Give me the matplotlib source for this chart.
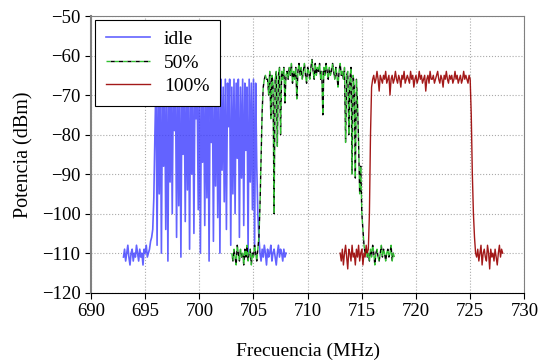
import matplotlib.pyplot as plt
import numpy as np

plt.rcParams['font.family'] = ['Liberation Serif', 'DejaVu Serif']

# frecuencias (MHz), paso de 0.1 MHz
f_idle = np.round(np.arange(693.0, 708.05, 0.1), 1)
f_50 = np.round(np.arange(703.0, 718.05, 0.1), 1)
f_100 = np.round(np.arange(713.0, 728.05, 0.1), 1)

# idle: suelo, rafaga 696-705.2, suelo
p_idle = [
    -111, -109, -112, -110, -108, -111, -113, -110, -109, -112,
    -110, -111, -108, -110, -112, -109, -111, -110, -113, -109,
    -110, -108, -111, -110, -109, -107, -106,
    -104, -96, -80,
    -66, -108, -67, -95, -66, -110, -68, -88, -66, -104,
    -67, -112, -66, -92, -68, -100, -66, -79, -67, -106,
    -66, -98, -68, -111, -66, -85, -67, -102, -66, -94,
    -68, -109, -66, -90, -67, -105, -66, -76, -68, -99,
    -66, -110, -67, -87, -66, -103, -68, -96, -66, -112,
    -67, -82, -66, -107, -68, -93, -66, -101, -67, -110,
    -66, -89, -68, -97, -66, -104, -67, -78, -66, -108,
    -68, -95, -66, -100, -67, -86, -66, -106, -68, -91,
    -66, -103, -67, -84, -68, -110, -66, -92, -67, -99,
    -66, -109, -67,
    -88, -100, -106,
    -110, -112, -109, -111, -108, -110, -113, -109, -111, -110,
    -108, -112, -110, -109, -111, -113, -110, -108, -111, -109,
    -110, -112, -109, -111, -110,
]

# 50%
p_50 = [
    -110, -112, -109, -111, -113, -108, -110, -112, -109, -111,
    -110, -113, -109, -111, -108, -112, -110, -109, -113, -110,
    -111, -108, -110, -112, -109,
    -106, -98, -86, -74, -68, -66, -65, -66,
    -66, -70, -64, -76, -65, -67, -100, -66, -64, -83,
    -65, -63, -80, -64, -66, -63, -72, -65, -64, -66,
    -63, -65, -62, -67, -64, -66, -63, -71, -64, -62,
    -65, -63, -66, -64, -62, -65, -67, -63, -64, -66,
    -63, -61, -64, -66, -62, -65, -63, -64, -62, -66,
    -64, -75, -63, -65, -62, -64, -66, -63, -65, -64,
    -62, -64, -66, -63, -65, -68, -64, -62, -65, -64,
    -66, -63, -82, -65, -64, -80, -66, -63, -90, -65,
    -68, -91, -66, -72,
    -82, -95, -88, -100, -104, -108, -110, -109, -111,
    -110, -112, -109, -111, -108, -110, -113, -110, -109, -111,
    -112, -110, -108, -111, -109, -110, -112, -110, -109, -111,
    -110, -108, -112, -110, -111,
]

# 100%
p_100 = [
    -110, -112, -109, -113, -110, -108, -111, -114, -109, -110,
    -112, -108, -111, -110, -113, -109, -111, -108, -112, -110,
    -109, -113, -110, -111, -108, -110, -109,
    -100, -80, -68,
    -66, -65, -67, -66, -64, -66, -69, -65, -66, -67,
    -65, -66, -64, -67, -66, -65, -70, -66, -65, -67,
    -66, -64, -66, -67, -65, -66, -68, -65, -66, -64,
    -67, -66, -65, -66, -67, -64, -66, -65, -68, -66,
    -65, -67, -66, -64, -66, -65, -67, -66, -65, -69,
    -66, -65, -67, -64, -66, -66, -65, -67, -66, -65,
    -64, -66, -67, -65, -66, -68, -65, -66, -64, -66,
    -67, -65, -66, -65, -67, -66, -64, -66, -65, -67,
    -66, -65, -67, -66, -64, -66, -65, -66, -67, -65,
    -66,
    -75, -90, -100, -106, -110,
    -111, -109, -112, -110, -108, -113, -110, -109, -111, -112,
    -108, -110, -114, -109, -111, -110, -112, -109, -111, -113,
    -110, -108, -111, -109, -110,
]

fig, ax = plt.subplots(figsize=(5.4, 3.64), dpi=100)
fig.subplots_adjust(left=0.1685, right=0.971, top=0.956, bottom=0.196)

ax.plot(f_idle, p_idle, color='#3c3cff', lw=1.2, alpha=0.8, label='idle')
ax.plot(f_50, p_50, color='#30c030', lw=1.0, ls=(0, (3, 3)),
        gapcolor='black', label='50%')
ax.plot(f_100, p_100, color='#990000', lw=1.0, alpha=0.9, label='100%')

ax.set_xlim(690, 730)
ax.set_ylim(-120, -50)
ax.set_xticks(np.arange(690, 731, 5))
ax.set_yticks(np.arange(-120, -49, 10))
ax.tick_params(labelsize=13.5, direction='out', length=4)
ax.grid(True, linestyle=':', color='#aaaaaa', lw=0.8)

for side in ['left', 'top', 'right']:
    ax.spines[side].set_color('#808080')
ax.spines['left'].set_linewidth(1.5)
ax.spines['bottom'].set_color('black')

ax.set_xlabel('Frecuencia (MHz)', fontsize=14, labelpad=16)
ax.set_ylabel('Potencia (dBm)', fontsize=14.5, labelpad=6)

leg = ax.legend(loc='upper left', fontsize=14, fancybox=False, framealpha=1,
                edgecolor='black', handlelength=2.3, handletextpad=0.7,
                borderaxespad=0.2, labelspacing=0.3, borderpad=0.55)
leg.get_frame().set_linewidth(0.8)

plt.savefig('out.png')
